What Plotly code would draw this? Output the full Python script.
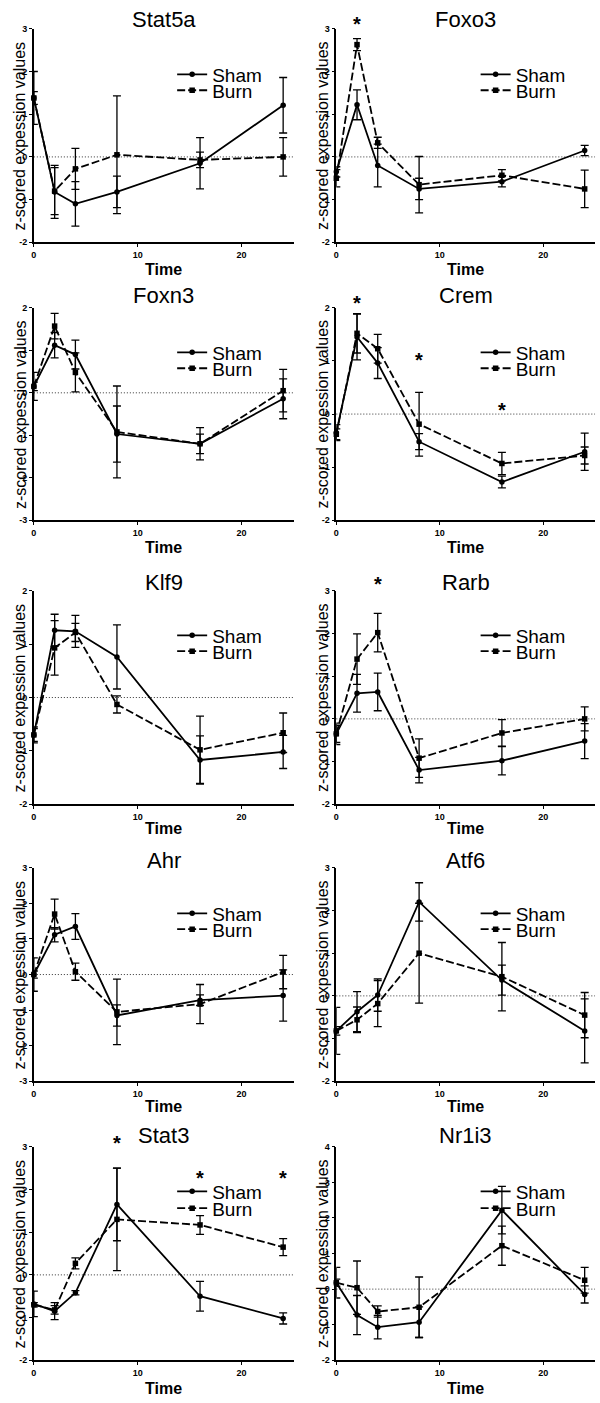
import plotly.graph_objects as go

# ---------------- data ----------------
times = [0, 2, 4, 8, 16, 24]
genes = ["Stat5a", "Foxo3", "Foxn3", "Crem", "Klf9", "Rarb", "Ahr", "Atf6", "Stat3", "Nr1i3"]
series_names = ["Sham", "Burn"]

stat5a_sham = [1.38, -0.82, -1.10, -0.82, -0.15, 1.21]
stat5a_sham_err = [0.62, 0.62, 0.52, 0.37, 0.60, 0.65]
stat5a_burn = [1.38, -0.80, -0.28, 0.05, -0.07, 0.00]
stat5a_burn_err = [0.15, 0.55, 0.48, 1.38, 0.18, 0.45]

foxo3_sham = [-0.35, 1.22, -0.20, -0.75, -0.58, 0.15]
foxo3_sham_err = [0.12, 0.35, 0.50, 0.25, 0.12, 0.12]
foxo3_burn = [-0.50, 2.63, 0.33, -0.65, -0.43, -0.75]
foxo3_burn_err = [0.20, 0.14, 0.13, 0.66, 0.13, 0.44]

foxn3_sham = [0.15, 1.12, 0.90, -0.97, -1.20, -0.14]
foxn3_sham_err = [0.33, 0.30, 0.34, 0.66, 0.38, 0.47]
foxn3_burn = [0.15, 1.57, 0.48, -0.92, -1.20, 0.05]
foxn3_burn_err = [0.10, 0.30, 0.46, 1.08, 0.23, 0.50]

crem_sham = [-0.35, 1.45, 0.96, -0.52, -1.28, -0.71]
crem_sham_err = [0.15, 0.43, 0.29, 0.15, 0.11, 0.35]
crem_burn = [-0.38, 1.52, 1.23, -0.19, -0.93, -0.78]
crem_burn_err = [0.10, 0.37, 0.27, 0.60, 0.21, 0.16]

klf9_sham = [-0.70, 1.26, 1.24, 0.76, -1.17, -1.02]
klf9_sham_err = [0.15, 0.30, 0.30, 0.60, 0.45, 0.31]
klf9_burn = [-0.70, 0.93, 1.22, -0.13, -0.98, -0.66]
klf9_burn_err = [0.12, 0.51, 0.17, 0.16, 0.63, 0.37]

rarb_sham = [-0.35, 0.60, 0.63, -1.20, -0.98, -0.52]
rarb_sham_err = [0.25, 0.44, 0.44, 0.30, 0.33, 0.41]
rarb_burn = [-0.35, 1.40, 2.02, -0.92, -0.33, 0.00]
rarb_burn_err = [0.20, 0.59, 0.45, 0.45, 0.31, 0.28]

ahr_sham = [0.00, 1.12, 1.35, -1.15, -0.72, -0.59]
ahr_sham_err = [0.47, 0.20, 0.36, 0.30, 0.15, 0.72]
ahr_burn = [0.00, 1.70, 0.08, -1.05, -0.83, 0.07]
ahr_burn_err = [0.10, 0.42, 0.24, 0.92, 0.55, 0.47]

atf6_sham = [-0.82, -0.37, 0.02, 2.20, 0.37, -0.82]
atf6_sham_err = [0.55, 0.47, 0.38, 0.45, 0.35, 0.75]
atf6_burn = [-0.82, -0.56, -0.18, 1.00, 0.45, -0.45]
atf6_burn_err = [0.10, 0.30, 0.54, 1.17, 0.80, 0.53]

stat3_sham = [-0.68, -0.85, -0.42, 1.65, -0.50, -1.02]
stat3_sham_err = [0.30, 0.20, 0.05, 0.85, 0.35, 0.13]
stat3_burn = [-0.70, -0.82, 0.27, 1.30, 1.17, 0.65]
stat3_burn_err = [0.05, 0.10, 0.13, 1.20, 0.22, 0.20]

nr1i3_sham = [0.18, -0.73, -1.07, -0.93, 2.22, -0.15]
nr1i3_sham_err = [0.43, 0.55, 0.33, 0.43, 0.67, 0.24]
nr1i3_burn = [0.18, 0.04, -0.63, -0.51, 1.22, 0.25]
nr1i3_burn_err = [0.10, 0.75, 0.16, 0.85, 0.55, 0.36]

y_min = [-2, -2, -3, -2, -2, -2, -3, -2, -2, -2]
y_max = [3, 3, 2, 2, 2, 3, 3, 3, 3, 4]

# significance markers (time, y)
foxo3_star_t = [2]
foxo3_star_y = [3.18]
crem_star_t = [2, 8, 16]
crem_star_y = [2.15, 1.07, 0.13]
rarb_star_t = [4]
rarb_star_y = [3.22]
stat3_star_t = [8, 16, 24]
stat3_star_y = [3.17, 2.35, 2.35]

x_ticks = [0, 10, 20]
y_title = "z-scored expession values"
x_title = "Time"

panel_data = [
    (stat5a_sham, stat5a_sham_err, stat5a_burn, stat5a_burn_err, [], []),
    (foxo3_sham, foxo3_sham_err, foxo3_burn, foxo3_burn_err, foxo3_star_t, foxo3_star_y),
    (foxn3_sham, foxn3_sham_err, foxn3_burn, foxn3_burn_err, [], []),
    (crem_sham, crem_sham_err, crem_burn, crem_burn_err, crem_star_t, crem_star_y),
    (klf9_sham, klf9_sham_err, klf9_burn, klf9_burn_err, [], []),
    (rarb_sham, rarb_sham_err, rarb_burn, rarb_burn_err, rarb_star_t, rarb_star_y),
    (ahr_sham, ahr_sham_err, ahr_burn, ahr_burn_err, [], []),
    (atf6_sham, atf6_sham_err, atf6_burn, atf6_burn_err, [], []),
    (stat3_sham, stat3_sham_err, stat3_burn, stat3_burn_err, stat3_star_t, stat3_star_y),
    (nr1i3_sham, nr1i3_sham_err, nr1i3_burn, nr1i3_burn_err, [], []),
]

# ---------------- layout geometry (pixels) ----------------
W, H = 600, 1403
FONT = "Arial, Liberation Sans, sans-serif"
col_px = [(31, 292), (335, 595)]
row_px = [(24, 239), (305, 519), (590, 805), (869, 1084), (1150, 1365)]
title_px = [15, 293, 582, 862, 1139]
time_px = [266, 546, 829, 1109, 1393]
legend_px = [(70, 86), (350, 366), (635, 651), (915, 931), (1195, 1212)]
legend_x_px = [170, 475]
ytitle_x_px = [17, 321]

def px_x(p):
    return p / W

def px_y(p):
    return 1 - p / H

fig = go.Figure()
layout = dict(
    width=W, height=H,
    margin=dict(l=0, r=0, t=0, b=0),
    paper_bgcolor="white", plot_bgcolor="white",
    font=dict(family=FONT, color="black"),
    annotations=[], shapes=[],
)

for i, gene in enumerate(genes):
    r, c = divmod(i, 2)
    ax = "" if i == 0 else str(i + 1)
    xa, ya = "x" + ax, "y" + ax
    sham, sham_err, burn, burn_err, st_t, st_y = panel_data[i]

    lg1 = "legend" if i == 0 else "legend%d" % (2 * i + 1)
    lg2 = "legend%d" % (2 * i + 2)

    for name, vals, errs, dash, sym, lg in [
        (series_names[0], sham, sham_err, "solid", "circle", lg1),
        (series_names[1], burn, burn_err, "8px,3px", "square", lg2),
    ]:
        fig.add_trace(go.Scatter(
            x=times, y=vals, name=name, mode="lines+markers",
            xaxis=xa, yaxis=ya, legend=lg, showlegend=True,
            line=dict(color="black", width=1.8, dash=dash),
            marker=dict(symbol=sym, size=5.5, color="black"),
            error_y=dict(type="data", array=errs, visible=True,
                         color="black", thickness=1.3, width=4),
            cliponaxis=False,
        ))

    x0, x1 = col_px[c]
    top, bot = row_px[r]
    ticks = list(range(y_min[i], y_max[i] + 1))
    layout["xaxis" + ax] = dict(
        domain=[px_x(x0), px_x(x1)], range=[0, 25], anchor=ya,
        tickvals=x_ticks, ticktext=[str(t) for t in x_ticks],
        ticks="outside", ticklen=3, tickwidth=1.2, tickcolor="black",
        showline=True, linecolor="black", linewidth=1.6,
        showgrid=False, zeroline=False,
        tickfont=dict(size=9, family=FONT, weight="bold", color="black"),
    )
    layout["yaxis" + ax] = dict(
        domain=[px_y(bot), px_y(top)], range=[y_min[i], y_max[i]], anchor=xa,
        tickvals=ticks, ticktext=[str(t) for t in ticks],
        ticks="outside", ticklen=3, tickwidth=1.2, tickcolor="black",
        showline=True, linecolor="black", linewidth=1.6,
        showgrid=False, zeroline=False,
        tickfont=dict(size=9, family=FONT, weight="bold", color="black"),
    )

    # dotted zero line
    layout["shapes"].append(dict(
        type="line", xref=xa + " domain", yref=ya, x0=0, x1=1, y0=0, y1=0,
        line=dict(color="#333", width=1, dash="1px,2px"), layer="below",
    ))

    cx = (x0 + x1) / 2
    layout["annotations"].append(dict(
        text=gene, xref="paper", yref="paper", x=px_x(cx), y=px_y(title_px[r]),
        xanchor="center", yanchor="middle", showarrow=False,
        font=dict(size=22, family=FONT, color="black"),
    ))
    layout["annotations"].append(dict(
        text=x_title, xref="paper", yref="paper", x=px_x(cx), y=px_y(time_px[r]),
        xanchor="center", yanchor="middle", showarrow=False,
        font=dict(size=16, family=FONT, color="black", weight="bold"),
    ))
    layout["annotations"].append(dict(
        text=y_title, xref="paper", yref="paper", x=px_x(ytitle_x_px[c]),
        y=px_y((top + bot) / 2), textangle=-90,
        xanchor="center", yanchor="middle", showarrow=False,
        font=dict(size=16, family=FONT, color="black"),
    ))
    ybot, ytop = px_y(bot), px_y(top)
    for t, yv in zip(st_t, st_y):
        frac = (yv - y_min[i]) / (y_max[i] - y_min[i])
        layout["annotations"].append(dict(
            text="*", xref=xa, yref="paper", x=t, y=ybot + frac * (ytop - ybot),
            xanchor="center", yanchor="middle", showarrow=False, yshift=-3,
            font=dict(size=20, family=FONT, color="black", weight="bold"),
        ))

    for k, lg in enumerate([lg1, lg2]):
        layout[lg] = dict(
            x=px_x(legend_x_px[c]), y=px_y(legend_px[r][k]),
            xanchor="left", yanchor="middle", xref="paper", yref="paper",
            bgcolor="rgba(0,0,0,0)", borderwidth=0,
            font=dict(size=19, family=FONT, color="black"),
            itemclick=False, itemdoubleclick=False,
        )

fig.update_layout(**layout)
fig.write_html("out.html", config={"displayModeBar": False},
               post_script="document.body.style.margin='0';")
